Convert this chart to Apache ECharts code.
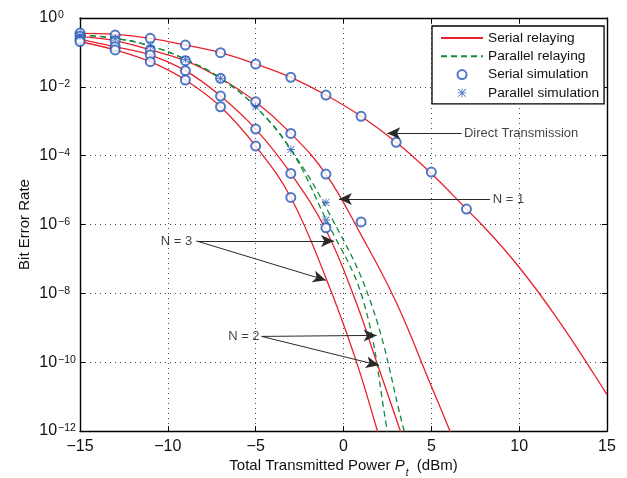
<!DOCTYPE html>
<html>
<head>
<meta charset="utf-8">
<script src="https://cdn.jsdelivr.net/npm/echarts@6/dist/echarts.min.js"></script>
<style>
  html, body { margin: 0; padding: 0; background: #fff; }
  #chart { width: 627px; height: 478px; }
</style>
</head>
<body>
<div id="chart"></div>
<script>
const FONT = '"Liberation Sans", Arial, Helvetica, sans-serif';

// analytic curves: total transmit power (dBm) -> BER
const directX   = [-15, -13, -11, -9, -7, -5, -3, -1, 1, 3, 5, 7, 8, 9, 10, 11, 12, 13, 14, 15];
const directBer = [3.59e-1, 3.36e-1, 2.57e-1, 1.64e-1, 9.8e-2, 4.6e-2, 1.89e-2, 5.78e-3, 1.39e-3, 2.44e-4, 3.02e-5, 2.81e-6,
                   8.47e-7, 2.33e-7, 5.73e-8, 1.25e-8, 2.44e-9, 4.35e-10, 7.21e-11, 1.14e-11];

const serial1X   = [-15, -13, -11, -9, -7, -5, -3, -1, 1, 3, 5, 6.06, 7];
const serial1Ber = [2.88e-1, 2.19e-1, 1.18e-1, 5.75e-2, 1.77e-2, 3.68e-3, 4.44e-4, 2.91e-5, 5.0e-7, 5.5e-9, 2.0e-11, 1.0e-12, 6.3e-14];

const serial2X   = [-15, -13, -11, -9, -7, -5, -3, -1, 0.65, 1.95, 3.22, 4];
const serial2Ber = [2.4e-1, 1.46e-1, 8.39e-2, 2.95e-2, 5.4e-3, 5.92e-4, 3.05e-5, 6.9e-7, 6.8e-9, 8.1e-11, 1.05e-12, 6.3e-14];

const serial3X   = [-15, -13, -11, -9, -7, -5, -3, -1, 0.65, 1.92, 2.6];
const serial3Ber = [2.04e-1, 1.18e-1, 5.37e-2, 1.58e-2, 2.64e-3, 1.9e-4, 6.1e-6, 2.8e-8, 1.4e-10, 1.05e-12, 6.3e-14];

const parallel3X   = [-15, -13, -11, -9, -7, -5, -3, -1, 1.12, 2.49, 2.9];
const parallel3Ber = [3.24e-1, 2.57e-1, 1.55e-1, 6.3e-2, 1.77e-2, 2.63e-3, 1.51e-4, 1.41e-6, 6.3e-9, 1.05e-12, 6.3e-14];

const parallel2X   = [-15, -13, -11, -9, -7, -5, -3, -1, 1.51, 3.44, 4];
const parallel2Ber = [3.24e-1, 2.57e-1, 1.55e-1, 6.3e-2, 1.77e-2, 2.63e-3, 1.51e-4, 3.16e-6, 6.3e-9, 1.05e-12, 7.9e-14];

// simulation markers
const serialSimX   = [-15, -15, -15, -15, -13, -13, -13, -13, -11, -11, -11, -11, -9, -9, -9, -9,
                      -7, -7, -7, -7, -5, -5, -5, -5, -3, -3, -3, -3, -1, -1, -1, 1, 1, 3, 5, 7];
const serialSimBer = [3.66e-1, 3.0e-1, 2.45e-1, 2.07e-1, 3.2e-1, 2.19e-1, 1.46e-1, 1.18e-1,
                      2.57e-1, 1.18e-1, 8.39e-2, 5.37e-2, 1.64e-1, 5.75e-2, 2.95e-2, 1.58e-2,
                      9.8e-2, 1.77e-2, 5.4e-3, 2.64e-3, 4.6e-2, 3.68e-3, 5.92e-4, 1.9e-4,
                      1.89e-2, 4.44e-4, 3.05e-5, 6.1e-6, 5.78e-3, 2.91e-5, 8.0e-7,
                      1.39e-3, 1.19e-6, 2.44e-4, 3.33e-5, 2.81e-6];
const parallelSimX   = [-15, -13, -11, -9, -7, -5, -3, -1, -1];
const parallelSimBer = [3.0e-1, 2.57e-1, 1.55e-1, 6.3e-2, 1.77e-2, 2.63e-3, 1.51e-4, 4.36e-6, 1.35e-6];

// annotation texts and arrows (data coordinates)
const noteText  = ['Direct Transmission', 'N = 1', 'N = 3', 'N = 2'];
const noteAt    = [[6.8, 4.47e-4], [8.44, 5.5e-6], [-8.55, 3.31e-7], [-4.72, 5.6e-10]];
const noteSide  = ['right', 'right', 'left', 'left'];
const arrowFrom = [[6.72, 4.47e-4], [8.34, 5.5e-6], [-8.36, 3.31e-7], [-8.36, 3.31e-7], [-4.66, 5.6e-10], [-4.66, 5.6e-10]];
const arrowTo   = [[2.49, 4.47e-4], [-0.26, 5.5e-6], [-0.54, 3.31e-7], [-1.0, 2.4e-8], [1.89, 6.0e-10], [2.02, 8.1e-11]];

const xTicks = [-15, 15, 5];
const legendNames = ['Serial relaying', 'Parallel relaying', 'Serial simulation', 'Parallel simulation'];

const RED = '#e8212b', GREEN = '#168a3c', BLUE = '#2457b8';
const STAR = 'path://M9,0H11V20H9Z M0,9H20V11H0Z M2.2,0.8L19.2,17.8L17.8,19.2L0.8,2.2Z M17.8,0.8L19.2,2.2L2.2,19.2L0.8,17.8Z';

function pairs(xs, ys) { return xs.map((x, i) => [x, ys[i]]); }
function minus(v) { return v < 0 ? '\u2212' + (-v) : String(v); }

function curve(name, xs, ys, color, dashed) {
  return {
    type: 'line', name: name, data: pairs(xs, ys),
    symbol: 'none', showSymbol: false, smooth: 0.4, clip: true,
    lineStyle: { color: color, width: 1.3, type: dashed ? [6, 4] : 'solid' },
    itemStyle: { color: color }, z: 2, silent: true
  };
}

const chart = echarts.init(document.getElementById('chart'), null, { renderer: 'canvas' });

const boxTick = { inside: true, length: 5, lineStyle: { color: '#000', width: 1 } };
const boxLine = { show: true, onZero: false, lineStyle: { color: '#000', width: 1.4 } };

chart.setOption({
  animation: false,
  backgroundColor: '#fff',
  grid: { left: 80, right: 20, top: 18, bottom: 47, containLabel: false, outerBoundsMode: 'none' },
  legend: {
    // line entries: hide the dot ECharts puts in the middle of a line icon
    data: legendNames.map((n, i) => i < 2 ? { name: n, itemStyle: { opacity: 0 } } : { name: n }),
    orient: 'vertical', left: 432, top: 26,
    padding: [5, 5, 4, 8], itemWidth: 42, itemHeight: 9, itemGap: 4.3,
    borderColor: '#000', borderWidth: 1.3, backgroundColor: '#fff',
    textStyle: { fontFamily: FONT, fontSize: 13.7, color: '#111', lineHeight: 14 },
    selectedMode: false
  },
  xAxis: [{
    type: 'value', min: xTicks[0], max: xTicks[1], interval: xTicks[2],
    axisLine: boxLine, axisTick: boxTick,
    axisLabel: { formatter: minus, fontFamily: FONT, fontSize: 16, color: '#111', margin: 8 },
    splitLine: { show: true, lineStyle: { color: '#444', type: [1, 4], width: 1 } },
    name: '{a|Total Transmitted Power }{p|P}{s|t}{a|  (dBm)}',
    nameLocation: 'middle', nameGap: 27, nameMoveOverlap: false,
    nameTextStyle: {
      rich: {
        a: { fontFamily: FONT, fontSize: 15, color: '#111', lineHeight: 18, verticalAlign: 'top' },
        p: { fontFamily: FONT, fontSize: 15, color: '#111', fontStyle: 'italic', lineHeight: 18, verticalAlign: 'top' },
        s: { fontFamily: FONT, fontSize: 10, color: '#111', fontStyle: 'italic', lineHeight: 10, padding: [10, 0, 0, 1], verticalAlign: 'top' }
      }
    }
  }, {
    type: 'value', position: 'top', min: xTicks[0], max: xTicks[1], interval: xTicks[2],
    axisLine: boxLine, axisTick: boxTick, axisLabel: { show: false }, splitLine: { show: false }
  }],
  yAxis: [{
    type: 'log', logBase: 10, min: 1e-12, max: 1, interval: 2,
    axisLine: boxLine, axisTick: boxTick, minorTick: { show: false },
    axisLabel: {
      align: 'left', margin: 40.7, showMinLabel: true, showMaxLabel: true,
      formatter: v => '{b|10}{s|' + minus(Math.round(Math.log10(v))) + '}',
      rich: {
        b: { fontFamily: FONT, fontSize: 16, color: '#111', lineHeight: 16, padding: [4, 0, 4, 0], verticalAlign: 'middle' },
        s: { fontFamily: FONT, fontSize: 10.5, color: '#111', lineHeight: 11, padding: [0, 0, 0, 1], verticalAlign: 'top' }
      }
    },
    splitLine: { show: true, lineStyle: { color: '#444', type: [1, 4], width: 1 } },
    name: 'Bit Error Rate', nameLocation: 'middle', nameGap: 48, nameMoveOverlap: false,
    nameTextStyle: { fontFamily: FONT, fontSize: 15, color: '#111' }
  }, {
    type: 'log', logBase: 10, min: 1e-12, max: 1, interval: 2, position: 'right',
    axisLine: boxLine, axisTick: boxTick, axisLabel: { show: false }, splitLine: { show: false }
  }],
  series: [
    curve('Serial relaying', directX, directBer, RED, false),
    curve('Serial relaying', serial1X, serial1Ber, RED, false),
    curve('Serial relaying', serial2X, serial2Ber, RED, false),
    curve('Serial relaying', serial3X, serial3Ber, RED, false),
    curve('Parallel relaying', parallel2X, parallel2Ber, GREEN, true),
    curve('Parallel relaying', parallel3X, parallel3Ber, GREEN, true),
    {
      type: 'scatter', name: 'Serial simulation', data: pairs(serialSimX, serialSimBer),
      symbol: 'emptyCircle', symbolSize: 9, z: 4, silent: true,
      itemStyle: { color: BLUE, borderColor: BLUE, borderWidth: 1.3 }
    },
    {
      type: 'scatter', name: 'Parallel simulation', data: pairs(parallelSimX, parallelSimBer),
      symbol: STAR, symbolSize: 8, z: 5, silent: true,
      itemStyle: { color: BLUE }
    },
    {
      type: 'scatter', name: 'notes', silent: true, z: 6, symbolSize: 0,
      data: noteText.map((t, i) => ({ name: t, value: noteAt[i], label: { position: noteSide[i] } })),
      label: { show: true, formatter: '{b}', fontFamily: FONT, fontSize: 13, color: '#111', distance: 1 },
      markLine: {
        silent: true, animation: false, symbol: ['none', 'arrow'], symbolSize: [9, 13],
        lineStyle: { color: '#2a2a2a', width: 1, type: 'solid' },
        label: { show: false },
        data: arrowFrom.map((f, i) => [{ coord: f }, { coord: arrowTo[i] }])
      }
    }
  ]
});
</script>
</body>
</html>
